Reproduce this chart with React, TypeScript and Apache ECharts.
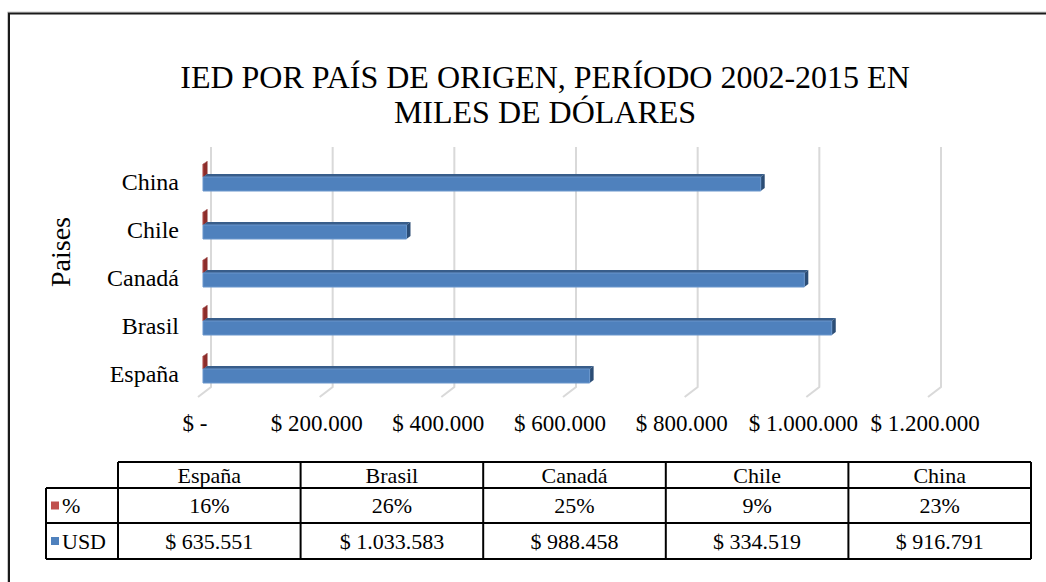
import React, { useEffect, useRef } from 'react';
import * as echarts from 'echarts';

// ---------- data ----------
const categories = ['España', 'Brasil', 'Canadá', 'Chile', 'China'];
const usdValues = [635551, 1033583, 988458, 334519, 916791];
const pctValues = [0.16, 0.26, 0.25, 0.09, 0.23];
const seriesNames = ['%', 'USD'];
const xTicks = [0, 200000, 400000, 600000, 800000, 1000000, 1200000];
const xTickLabels = ['$ -', '$ 200.000', '$ 400.000', '$ 600.000', '$ 800.000', '$ 1.000.000', '$ 1.200.000'];
const titleLines = ['IED POR PAÍS DE ORIGEN, PERÍODO 2002-2015 EN', 'MILES DE DÓLARES'];
const yAxisTitle = 'Paises';

const fmtThousands = (v: number) => String(v).replace(/\B(?=(\d{3})+(?!\d))/g, '.');
const usdLabels = usdValues.map((v) => '$ ' + fmtThousands(v));
const pctLabels = pctValues.map((v) => Math.round(v * 100) + '%');

// ---------- style / layout ----------
const FONT = '"Liberation Serif", "Times New Roman", serif';
const BLUE = { front: '#4F81BD', top: '#385D8A', side: '#2C4D75', edge: '#6A96CC' };
const RED = { front: '#C0504D', top: '#8C2D2B', side: '#8C2D2B', edge: '#A33F3C' };
const GRID = { left: 203, top: 158, width: 730, height: 240 };
const DEPTH = { dx: 4, dy: 3 };

const TABLE = { left: 46, colStart: 118, right: 1031, rows: [462, 488, 523, 559] };

function bar3D(colors: any, yOff: number, h: number) {
  return (params: any, api: any) => {
    const v = api.value(0);
    const ci = api.value(1);
    const p0 = api.coord([0, ci]);
    const p1 = api.coord([v, ci]);
    const x0 = p0[0];
    const x1 = Math.max(p1[0], x0 + 0.5);
    const yT = p0[1] + yOff;
    const yB = yT + h;
    const { dx, dy } = DEPTH;
    return {
      type: 'group',
      children: [
        {
          type: 'polygon',
          shape: { points: [[x0, yT], [x0 + dx, yT - dy], [x1 + dx, yT - dy], [x1, yT]] },
          style: { fill: colors.top },
        },
        {
          type: 'polygon',
          shape: { points: [[x1, yT], [x1 + dx, yT - dy], [x1 + dx, yB - dy], [x1, yB]] },
          style: { fill: colors.side },
        },
        {
          type: 'rect',
          shape: { x: x0, y: yT, width: x1 - x0, height: h },
          style: { fill: colors.front, stroke: colors.edge, lineWidth: 1 },
        },
      ],
    };
  };
}

function buildTable(): any[] {
  const els: any[] = [];
  const n = categories.length;
  const colW = (TABLE.right - TABLE.colStart) / n;
  const [r0, r1, r2, r3] = TABLE.rows;
  const line = (x1: number, y1: number, x2: number, y2: number) => ({
    type: 'line',
    shape: { x1, y1, x2, y2 },
    style: { stroke: '#000', lineWidth: 2 },
  });
  els.push(line(TABLE.colStart, r0, TABLE.right, r0));
  els.push(line(TABLE.left, r1, TABLE.right, r1));
  els.push(line(TABLE.left, r2, TABLE.right, r2));
  els.push(line(TABLE.left, r3, TABLE.right, r3));
  els.push(line(TABLE.left, r1, TABLE.left, r3));
  for (let i = 0; i <= n; i++) {
    const x = TABLE.colStart + i * colW;
    els.push(line(x, r0, x, r3));
  }
  const txt = (text: string, x: number, y: number, align = 'center') => ({
    type: 'text',
    x,
    y,
    style: { text, fill: '#000', font: `22px ${FONT}`, align, verticalAlign: 'middle' },
  });
  categories.forEach((c, i) => {
    const cx = TABLE.colStart + (i + 0.5) * colW;
    els.push(txt(c, cx, (r0 + r1) / 2));
    els.push(txt(pctLabels[i], cx, (r1 + r2) / 2));
    els.push(txt(usdLabels[i], cx, (r2 + r3) / 2));
  });
  const keyColors = [RED.front, BLUE.front];
  const rowMids = [(r1 + r2) / 2, (r2 + r3) / 2];
  seriesNames.forEach((s, i) => {
    els.push({
      type: 'rect',
      shape: { x: TABLE.left + 5, y: rowMids[i] - 4, width: 8, height: 8 },
      style: { fill: keyColors[i] },
    });
    els.push(txt(s, TABLE.left + 16, rowMids[i], 'left'));
  });
  return els;
}

export default function App() {
  const ref = useRef<HTMLDivElement>(null);
  useEffect(() => {
    if (!ref.current) return;
    const chart = echarts.init(ref.current, undefined, { renderer: 'svg' });
    const option: any = {
      animation: false,
      backgroundColor: '#fff',
      title: {
        text: titleLines.join('\n'),
        left: 540,
        top: 54,
        textAlign: 'center',
        textStyle: { fontFamily: FONT, fontSize: 32, fontWeight: 'normal', color: '#000', lineHeight: 35 },
      },
      grid: { ...GRID, containLabel: false },
      xAxis: {
        type: 'value',
        min: 0,
        max: 1200000,
        interval: 200000,
        axisLine: { show: false },
        axisTick: { show: false },
        splitLine: { show: false },
        axisLabel: {
          margin: 14,
          color: '#000',
          fontFamily: FONT,
          fontSize: 23,
          padding: [0, 16, 0, 0],
          formatter: (v: number) => {
            const i = xTicks.indexOf(v);
            return i >= 0 ? xTickLabels[i] : '';
          },
        },
      },
      yAxis: {
        type: 'category',
        data: categories,
        axisLine: { show: false },
        axisTick: { show: false },
        splitLine: { show: false },
        axisLabel: { margin: 24, color: '#000', fontFamily: FONT, fontSize: 24 },
      },
      series: [
        {
          type: 'custom',
          name: 'grid',
          coordinateSystem: 'cartesian2d',
          silent: true,
          encode: { x: 0, y: 1 },
          data: xTicks.map((v) => [v, 0]),
          renderItem: (params: any, api: any) => {
            const x = api.coord([api.value(0), 0])[0];
            const cs = params.coordSys;
            const yTop = cs.y - 11;
            const yBack = cs.y + cs.height - 11;
            const yFront = cs.y + cs.height - 1;
            return {
              type: 'polyline',
              shape: { points: [[x + 8, yTop], [x + 8, yBack], [x - 5, yFront]] },
              style: { stroke: '#D9D9D9', lineWidth: 2, fill: 'none' },
            };
          },
        },
        {
          type: 'custom',
          name: seriesNames[0],
          coordinateSystem: 'cartesian2d',
          encode: { x: 0, y: 1 },
          data: pctValues.map((v, i) => [v, i]),
          renderItem: bar3D(RED, -18, 13),
        },
        {
          type: 'custom',
          name: seriesNames[1],
          coordinateSystem: 'cartesian2d',
          encode: { x: 0, y: 1 },
          data: usdValues.map((v, i) => [v, i]),
          renderItem: bar3D(BLUE, -5, 14),
        },
      ],
      graphic: [
        {
          type: 'rect',
          shape: { x: 7.5, y: 12, width: 1200, height: 800 },
          style: { fill: 'none', stroke: '#C8C8C8', lineWidth: 1 },
          silent: true,
        },
        {
          type: 'rect',
          shape: { x: 9, y: 13.5, width: 1200, height: 800 },
          style: { fill: 'none', stroke: '#1a1a1a', lineWidth: 2 },
          silent: true,
        },
        {
          type: 'text',
          x: 60,
          y: 252,
          rotation: Math.PI / 2,
          style: { text: yAxisTitle, fill: '#000', font: `28px ${FONT}`, align: 'center', verticalAlign: 'middle' },
        },
        ...buildTable(),
      ],
    };
    chart.setOption(option);
    return () => chart.dispose();
  }, []);
  return (
    <div
      ref={ref}
      style={{ position: 'absolute', left: 0, top: 0, width: 1046, height: 582 }}
    />
  );
}
